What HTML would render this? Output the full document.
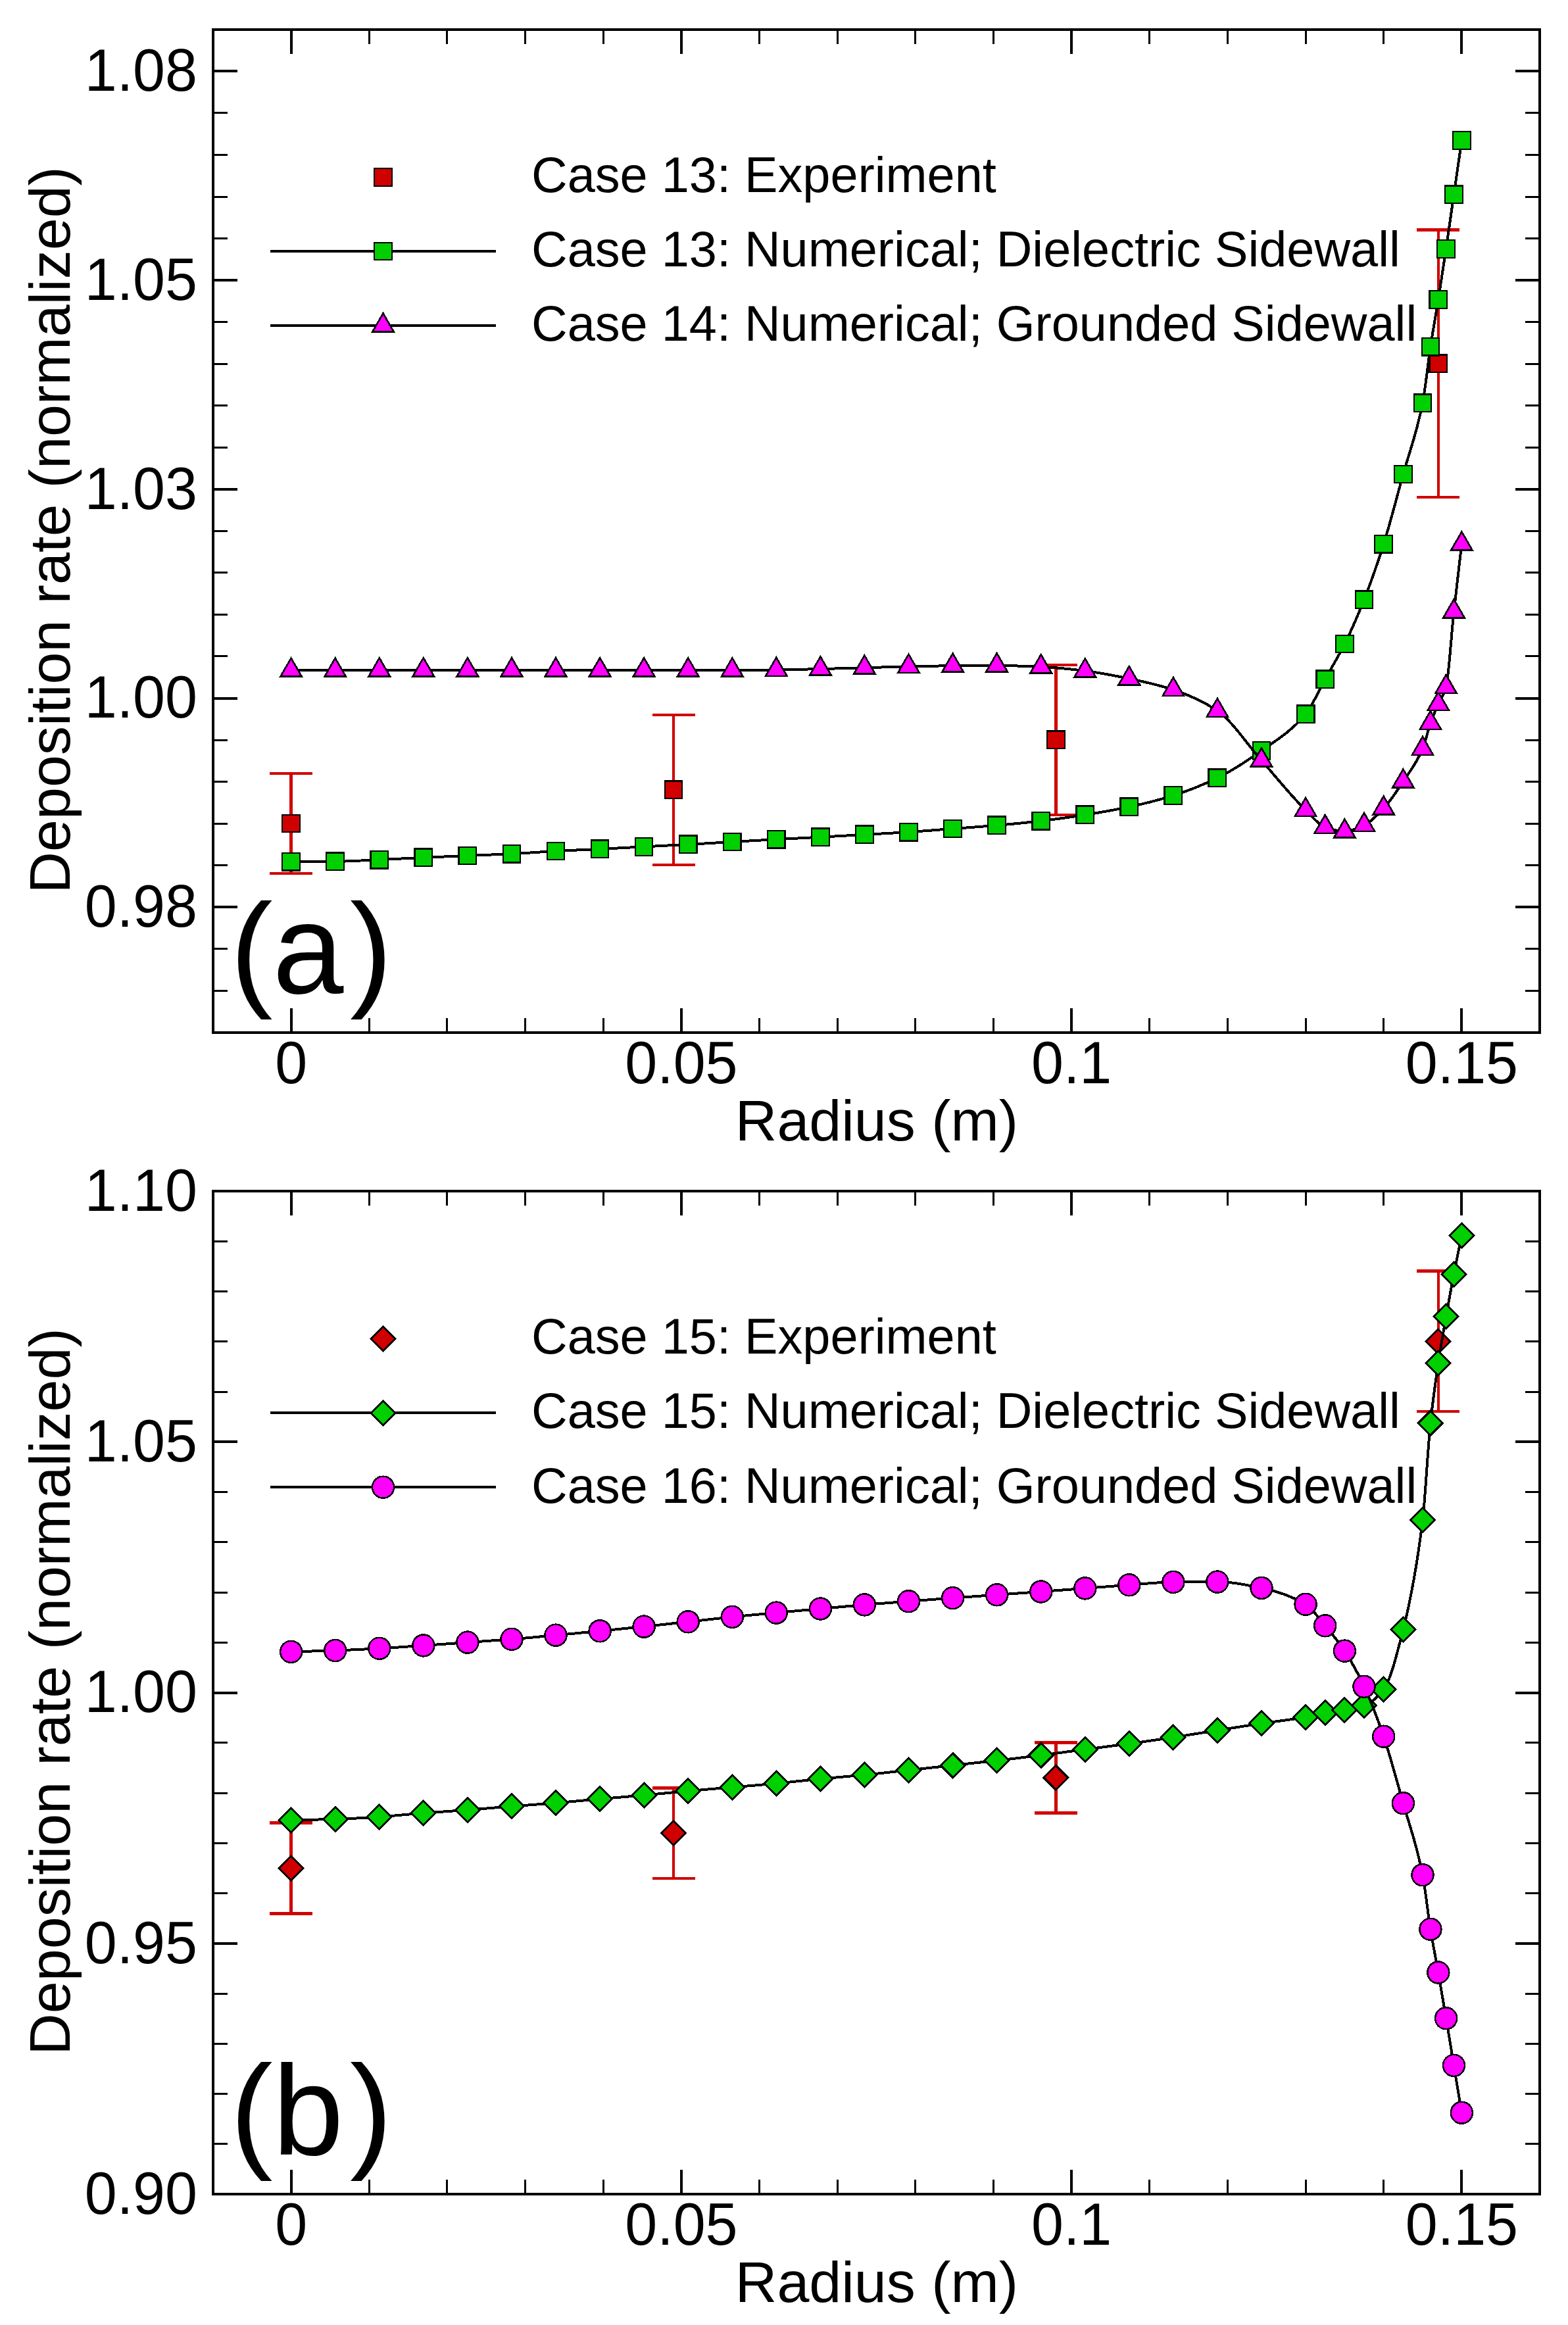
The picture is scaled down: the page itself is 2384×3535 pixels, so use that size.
<!DOCTYPE html>
<html lang="en">
<head>
<meta charset="utf-8">
<title>Deposition rate vs radius</title>
<style>
html,body{margin:0;padding:0;background:#fff;}
body{width:2384px;height:3535px;overflow:hidden;}
svg{display:block;}
text{white-space:pre;}
</style>
</head>
<body>
<svg width="2384" height="3535" viewBox="0 0 2384 3535" font-family='"Liberation Sans", Arial, Helvetica, sans-serif' fill="#000" shape-rendering="crispEdges">
<rect width="2384" height="3535" fill="#fff"/>
<g id="panel-a">
<path d="M442.6 44.8v37M442.6 1569.8v-37M1035.9 44.8v37M1035.9 1569.8v-37M1629.1 44.8v37M1629.1 1569.8v-37M2222.4 44.8v37M2222.4 1569.8v-37M324 1379.2h37M2341 1379.2h-37M324 1061.5h37M2341 1061.5h-37M324 743.8h37M2341 743.8h-37M324 426.1h37M2341 426.1h-37M324 108.3h37M2341 108.3h-37" stroke="#000" stroke-width="4" fill="none"/>
<path d="M561.3 44.8v22M561.3 1569.8v-22M679.9 44.8v22M679.9 1569.8v-22M798.6 44.8v22M798.6 1569.8v-22M917.2 44.8v22M917.2 1569.8v-22M1154.5 44.8v22M1154.5 1569.8v-22M1273.2 44.8v22M1273.2 1569.8v-22M1391.8 44.8v22M1391.8 1569.8v-22M1510.5 44.8v22M1510.5 1569.8v-22M1747.8 44.8v22M1747.8 1569.8v-22M1866.4 44.8v22M1866.4 1569.8v-22M1985.1 44.8v22M1985.1 1569.8v-22M2103.7 44.8v22M2103.7 1569.8v-22M324 1506.3h22M2341 1506.3h-22M324 1442.7h22M2341 1442.7h-22M324 1315.6h22M2341 1315.6h-22M324 1252.1h22M2341 1252.1h-22M324 1188.5h22M2341 1188.5h-22M324 1125h22M2341 1125h-22M324 997.9h22M2341 997.9h-22M324 934.4h22M2341 934.4h-22M324 870.8h22M2341 870.8h-22M324 807.3h22M2341 807.3h-22M324 680.2h22M2341 680.2h-22M324 616.7h22M2341 616.7h-22M324 553.1h22M2341 553.1h-22M324 489.6h22M2341 489.6h-22M324 362.5h22M2341 362.5h-22M324 299h22M2341 299h-22M324 235.4h22M2341 235.4h-22M324 171.9h22M2341 171.9h-22" stroke="#000" stroke-width="3" fill="none"/>
<g font-size="88" text-anchor="end">
<text transform="translate(300 138) scale(1 1.042)">1.08</text>
<text transform="translate(300 455.8) scale(1 1.042)">1.05</text>
<text transform="translate(300 773.5) scale(1 1.042)">1.03</text>
<text transform="translate(300 1091.2) scale(1 1.042)">1.00</text>
<text transform="translate(300 1408.9) scale(1 1.042)">0.98</text>
</g>
<g font-size="88" text-anchor="middle">
<text transform="translate(442.6 1646.6) scale(1 1.042)">0</text>
<text transform="translate(1035.9 1646.6) scale(1 1.042)">0.05</text>
<text transform="translate(1629.1 1646.6) scale(1 1.042)">0.1</text>
<text transform="translate(2222.4 1646.6) scale(1 1.042)">0.15</text>
<text x="1333" y="1733.8">Radius (m)</text>
<text transform="translate(106 805.8) rotate(-90)">Deposition rate (normalized)</text>
</g>
<text x="350" y="1509.8" font-size="194">(a<tspan dx="9.5">)</tspan></text>
<g font-size="75.7">
<text x="808" y="291.8">Case 13: Experiment</text>
<text x="808" y="405.1">Case 13: Numerical; Dielectric Sidewall</text>
<text x="808" y="518.4">Case 14: Numerical; Grounded Sidewall</text>
</g>
<path d="M411 382H754M411 495H754" stroke="#000" stroke-width="4" fill="none"/>
<g stroke="#000" stroke-width="2">
<rect x="569.2" y="256.1" width="26.6" height="26.6" fill="#d00000" stroke-width="2.2"/>
<rect x="569.2" y="368.7" width="26.6" height="26.6" fill="#00d000" stroke-width="2.2"/>
<path d="M582.5 476.3L598.7 504.4L566.3 504.4Z" fill="#ff00ff" stroke-width="2.6"/>
</g>
<g stroke="#d00000" stroke-width="4.5" fill="none">
<path d="M442.6 1175.8V1328.2M410.1 1175.8H475.1M410.1 1328.2H475.1"/>
<path d="M1024 1086.8V1315M991.5 1086.8H1056.5M991.5 1315H1056.5"/>
<path d="M1605.4 1010.8V1238.8M1572.9 1010.8H1637.9M1572.9 1238.8H1637.9"/>
<path d="M2186.8 349.5V756.1M2154.3 349.5H2219.3M2154.3 756.1H2219.3"/>
</g>
<g stroke="#000" stroke-width="2">
<rect x="429.3" y="1238.7" width="26.6" height="26.6" fill="#d00000" stroke-width="2.2"/>
<rect x="1010.7" y="1187.6" width="26.6" height="26.6" fill="#d00000" stroke-width="2.2"/>
<rect x="1592.1" y="1111.5" width="26.6" height="26.6" fill="#d00000" stroke-width="2.2"/>
<rect x="2173.5" y="539.5" width="26.6" height="26.6" fill="#d00000" stroke-width="2.2"/>
</g>
<path d="M442.6 1310.3C465 1310.2 487.4 1310.1 509.7 1309.9C532.1 1309.7 554.4 1308.1 576.8 1307.1C599.1 1306.1 621.5 1304.9 643.8 1303.9C666.2 1302.9 688.5 1301.9 710.9 1301C733.2 1300.1 755.6 1299.3 778 1298.2C800.3 1297.1 822.7 1295.2 845 1294C867.4 1292.8 889.7 1292 912.1 1290.9C934.4 1289.8 956.8 1288.6 979.1 1287.4C1001.5 1286.2 1023.8 1285.1 1046.2 1283.9C1068.6 1282.7 1090.9 1281.3 1113.3 1280C1135.6 1278.7 1158 1277.4 1180.3 1276.2C1202.7 1275 1225 1273.9 1247.4 1272.7C1269.7 1271.5 1292.1 1270.2 1314.4 1268.9C1336.8 1267.6 1359.2 1266.6 1381.5 1265.1C1403.9 1263.6 1426.2 1261.7 1448.6 1260C1470.9 1258.3 1493.3 1256.8 1515.6 1254.9C1538 1253 1560.3 1250.8 1582.7 1248.2C1605 1245.6 1627.4 1242.4 1649.8 1238.9C1672.1 1235.4 1694.5 1231.5 1716.8 1226.8C1739.2 1222.1 1761.5 1216.5 1783.9 1209.5C1806.2 1202.5 1828.6 1193.6 1850.9 1182.8C1873.3 1172 1895.6 1157.2 1918 1141.4C1940.4 1125.6 1962.7 1112.5 1985.1 1085.9C1994.9 1074.1 2004.8 1050.5 2014.7 1032.7C2024.6 1014.9 2034.5 999 2044.4 979.1C2054.3 959.2 2064.2 936.8 2074 911.8C2083.9 886.8 2093.8 858.6 2103.7 827.2C2113.6 795.8 2123.5 756.7 2133.4 721C2143.3 685.3 2153.1 662.9 2163 612.7C2167 592.6 2170.9 553.3 2174.9 527.3C2178.8 501.3 2182.8 480.3 2186.8 455.5C2190.7 430.7 2194.7 405 2198.6 378.4C2202.6 351.8 2206.5 323.3 2210.5 295.8C2214.4 268.3 2218.4 240.9 2222.4 213.5" stroke="#000" stroke-width="4" fill="none"/>
<g stroke="#000" stroke-width="2">
<rect x="429.3" y="1297" width="26.6" height="26.6" fill="#00d000" stroke-width="2.2"/>
<rect x="496.4" y="1296.6" width="26.6" height="26.6" fill="#00d000" stroke-width="2.2"/>
<rect x="563.5" y="1293.8" width="26.6" height="26.6" fill="#00d000" stroke-width="2.2"/>
<rect x="630.5" y="1290.6" width="26.6" height="26.6" fill="#00d000" stroke-width="2.2"/>
<rect x="697.6" y="1287.7" width="26.6" height="26.6" fill="#00d000" stroke-width="2.2"/>
<rect x="764.7" y="1284.9" width="26.6" height="26.6" fill="#00d000" stroke-width="2.2"/>
<rect x="831.7" y="1280.7" width="26.6" height="26.6" fill="#00d000" stroke-width="2.2"/>
<rect x="898.8" y="1277.6" width="26.6" height="26.6" fill="#00d000" stroke-width="2.2"/>
<rect x="965.8" y="1274.1" width="26.6" height="26.6" fill="#00d000" stroke-width="2.2"/>
<rect x="1032.9" y="1270.6" width="26.6" height="26.6" fill="#00d000" stroke-width="2.2"/>
<rect x="1100" y="1266.7" width="26.6" height="26.6" fill="#00d000" stroke-width="2.2"/>
<rect x="1167" y="1262.9" width="26.6" height="26.6" fill="#00d000" stroke-width="2.2"/>
<rect x="1234.1" y="1259.4" width="26.6" height="26.6" fill="#00d000" stroke-width="2.2"/>
<rect x="1301.1" y="1255.6" width="26.6" height="26.6" fill="#00d000" stroke-width="2.2"/>
<rect x="1368.2" y="1251.8" width="26.6" height="26.6" fill="#00d000" stroke-width="2.2"/>
<rect x="1435.3" y="1246.7" width="26.6" height="26.6" fill="#00d000" stroke-width="2.2"/>
<rect x="1502.3" y="1241.6" width="26.6" height="26.6" fill="#00d000" stroke-width="2.2"/>
<rect x="1569.4" y="1234.9" width="26.6" height="26.6" fill="#00d000" stroke-width="2.2"/>
<rect x="1636.5" y="1225.6" width="26.6" height="26.6" fill="#00d000" stroke-width="2.2"/>
<rect x="1703.5" y="1213.5" width="26.6" height="26.6" fill="#00d000" stroke-width="2.2"/>
<rect x="1770.6" y="1196.2" width="26.6" height="26.6" fill="#00d000" stroke-width="2.2"/>
<rect x="1837.6" y="1169.5" width="26.6" height="26.6" fill="#00d000" stroke-width="2.2"/>
<rect x="1904.7" y="1128.1" width="26.6" height="26.6" fill="#00d000" stroke-width="2.2"/>
<rect x="1971.8" y="1072.6" width="26.6" height="26.6" fill="#00d000" stroke-width="2.2"/>
<rect x="2001.4" y="1019.4" width="26.6" height="26.6" fill="#00d000" stroke-width="2.2"/>
<rect x="2031.1" y="965.8" width="26.6" height="26.6" fill="#00d000" stroke-width="2.2"/>
<rect x="2060.7" y="898.5" width="26.6" height="26.6" fill="#00d000" stroke-width="2.2"/>
<rect x="2090.4" y="813.9" width="26.6" height="26.6" fill="#00d000" stroke-width="2.2"/>
<rect x="2120.1" y="707.7" width="26.6" height="26.6" fill="#00d000" stroke-width="2.2"/>
<rect x="2149.7" y="599.4" width="26.6" height="26.6" fill="#00d000" stroke-width="2.2"/>
<rect x="2161.6" y="514" width="26.6" height="26.6" fill="#00d000" stroke-width="2.2"/>
<rect x="2173.5" y="442.2" width="26.6" height="26.6" fill="#00d000" stroke-width="2.2"/>
<rect x="2185.3" y="365.1" width="26.6" height="26.6" fill="#00d000" stroke-width="2.2"/>
<rect x="2197.2" y="282.5" width="26.6" height="26.6" fill="#00d000" stroke-width="2.2"/>
<rect x="2209.1" y="200.2" width="26.6" height="26.6" fill="#00d000" stroke-width="2.2"/>
</g>
<path d="M442.6 1019.3C465 1019.3 487.4 1019.3 509.7 1019.3C532.1 1019.3 554.4 1019 576.8 1019C599.1 1019 621.5 1018.9 643.8 1018.9C666.2 1018.9 688.5 1018.9 710.9 1018.9C733.2 1018.9 755.6 1018.9 778 1018.9C800.3 1018.9 822.7 1018.9 845 1018.9C867.4 1018.9 889.7 1018.9 912.1 1018.9C934.4 1018.9 956.8 1018.9 979.1 1018.9C1001.5 1018.9 1023.8 1019.1 1046.2 1019.1C1068.6 1019.1 1090.9 1019.1 1113.3 1019.1C1135.6 1019.1 1158 1018.7 1180.3 1018.4C1202.7 1018.1 1225 1017.6 1247.4 1017.1C1269.7 1016.6 1292.1 1015.8 1314.4 1015.2C1336.8 1014.6 1359.2 1013.9 1381.5 1013.4C1403.9 1012.9 1426.2 1012.4 1448.6 1012.2C1470.9 1012 1493.3 1011.9 1515.6 1011.9C1538 1011.9 1560.3 1012.9 1582.7 1013.9C1605 1014.9 1627.4 1017.3 1649.8 1020C1672.1 1022.7 1694.5 1027.2 1716.8 1031.8C1739.2 1036.4 1761.5 1041.3 1783.9 1048.7C1806.2 1056.1 1828.6 1065.7 1850.9 1080.7C1873.3 1095.7 1895.6 1131 1918 1156.2C1940.4 1181.4 1962.7 1210 1985.1 1231.7C1994.9 1241.3 2004.8 1254.2 2014.7 1257.7C2024.6 1261.2 2034.5 1264.2 2044.4 1264.2C2054.3 1264.2 2064.2 1259.3 2074 1254.7C2083.9 1250.1 2093.8 1239.7 2103.7 1229.2C2113.6 1218.7 2123.5 1203.2 2133.4 1188.2C2143.3 1173.2 2153.1 1161.7 2163 1138.7C2167 1129.5 2170.9 1110.8 2174.9 1099.7C2178.8 1088.6 2182.8 1079.8 2186.8 1070.7C2190.7 1061.6 2194.7 1058.8 2198.6 1044.7C2202.6 1030.6 2206.5 966 2210.5 929.9C2214.4 893.8 2218.4 861.4 2222.4 827.2" stroke="#000" stroke-width="4" fill="none"/>
<g stroke="#000" stroke-width="2">
<path d="M442.6 1000.6L458.8 1028.7L426.4 1028.7Z" fill="#ff00ff" stroke-width="2.6"/>
<path d="M509.7 1000.6L525.9 1028.7L493.5 1028.7Z" fill="#ff00ff" stroke-width="2.6"/>
<path d="M576.8 1000.3L593 1028.4L560.6 1028.4Z" fill="#ff00ff" stroke-width="2.6"/>
<path d="M643.8 1000.2L660 1028.3L627.6 1028.3Z" fill="#ff00ff" stroke-width="2.6"/>
<path d="M710.9 1000.2L727.1 1028.3L694.7 1028.3Z" fill="#ff00ff" stroke-width="2.6"/>
<path d="M778 1000.2L794.2 1028.3L761.8 1028.3Z" fill="#ff00ff" stroke-width="2.6"/>
<path d="M845 1000.2L861.2 1028.3L828.8 1028.3Z" fill="#ff00ff" stroke-width="2.6"/>
<path d="M912.1 1000.2L928.3 1028.3L895.9 1028.3Z" fill="#ff00ff" stroke-width="2.6"/>
<path d="M979.1 1000.2L995.3 1028.3L962.9 1028.3Z" fill="#ff00ff" stroke-width="2.6"/>
<path d="M1046.2 1000.4L1062.4 1028.5L1030 1028.5Z" fill="#ff00ff" stroke-width="2.6"/>
<path d="M1113.3 1000.4L1129.5 1028.5L1097.1 1028.5Z" fill="#ff00ff" stroke-width="2.6"/>
<path d="M1180.3 999.7L1196.5 1027.8L1164.1 1027.8Z" fill="#ff00ff" stroke-width="2.6"/>
<path d="M1247.4 998.4L1263.6 1026.5L1231.2 1026.5Z" fill="#ff00ff" stroke-width="2.6"/>
<path d="M1314.4 996.5L1330.6 1024.6L1298.2 1024.6Z" fill="#ff00ff" stroke-width="2.6"/>
<path d="M1381.5 994.7L1397.7 1022.8L1365.3 1022.8Z" fill="#ff00ff" stroke-width="2.6"/>
<path d="M1448.6 993.5L1464.8 1021.6L1432.4 1021.6Z" fill="#ff00ff" stroke-width="2.6"/>
<path d="M1515.6 993.2L1531.8 1021.3L1499.4 1021.3Z" fill="#ff00ff" stroke-width="2.6"/>
<path d="M1582.7 995.2L1598.9 1023.3L1566.5 1023.3Z" fill="#ff00ff" stroke-width="2.6"/>
<path d="M1649.8 1001.3L1666 1029.4L1633.6 1029.4Z" fill="#ff00ff" stroke-width="2.6"/>
<path d="M1716.8 1013.1L1733 1041.2L1700.6 1041.2Z" fill="#ff00ff" stroke-width="2.6"/>
<path d="M1783.9 1030L1800.1 1058.1L1767.7 1058.1Z" fill="#ff00ff" stroke-width="2.6"/>
<path d="M1850.9 1062L1867.1 1090.1L1834.7 1090.1Z" fill="#ff00ff" stroke-width="2.6"/>
<path d="M1918 1137.5L1934.2 1165.6L1901.8 1165.6Z" fill="#ff00ff" stroke-width="2.6"/>
<path d="M1985.1 1213L2001.3 1241.1L1968.9 1241.1Z" fill="#ff00ff" stroke-width="2.6"/>
<path d="M2014.7 1239L2030.9 1267.1L1998.5 1267.1Z" fill="#ff00ff" stroke-width="2.6"/>
<path d="M2044.4 1245.5L2060.6 1273.6L2028.2 1273.6Z" fill="#ff00ff" stroke-width="2.6"/>
<path d="M2074 1236L2090.2 1264.1L2057.8 1264.1Z" fill="#ff00ff" stroke-width="2.6"/>
<path d="M2103.7 1210.5L2119.9 1238.6L2087.5 1238.6Z" fill="#ff00ff" stroke-width="2.6"/>
<path d="M2133.4 1169.5L2149.6 1197.6L2117.2 1197.6Z" fill="#ff00ff" stroke-width="2.6"/>
<path d="M2163 1120L2179.2 1148.1L2146.8 1148.1Z" fill="#ff00ff" stroke-width="2.6"/>
<path d="M2174.9 1081L2191.1 1109.1L2158.7 1109.1Z" fill="#ff00ff" stroke-width="2.6"/>
<path d="M2186.8 1052L2203 1080.1L2170.6 1080.1Z" fill="#ff00ff" stroke-width="2.6"/>
<path d="M2198.6 1026L2214.8 1054.1L2182.4 1054.1Z" fill="#ff00ff" stroke-width="2.6"/>
<path d="M2210.5 911.2L2226.7 939.3L2194.3 939.3Z" fill="#ff00ff" stroke-width="2.6"/>
<path d="M2222.4 808.5L2238.6 836.6L2206.2 836.6Z" fill="#ff00ff" stroke-width="2.6"/>
</g>
<rect x="324" y="44.8" width="2017" height="1525" fill="none" stroke="#000" stroke-width="4"/>
</g>
<g id="panel-b">
<path d="M442.6 1811v37M442.6 3336v-37M1035.9 1811v37M1035.9 3336v-37M1629.1 1811v37M1629.1 3336v-37M2222.4 1811v37M2222.4 3336v-37M324 2954.8h37M2341 2954.8h-37M324 2573.5h37M2341 2573.5h-37M324 2192.2h37M2341 2192.2h-37" stroke="#000" stroke-width="4" fill="none"/>
<path d="M561.3 1811v22M561.3 3336v-22M679.9 1811v22M679.9 3336v-22M798.6 1811v22M798.6 3336v-22M917.2 1811v22M917.2 3336v-22M1154.5 1811v22M1154.5 3336v-22M1273.2 1811v22M1273.2 3336v-22M1391.8 1811v22M1391.8 3336v-22M1510.5 1811v22M1510.5 3336v-22M1747.8 1811v22M1747.8 3336v-22M1866.4 1811v22M1866.4 3336v-22M1985.1 1811v22M1985.1 3336v-22M2103.7 1811v22M2103.7 3336v-22M324 3259.8h22M2341 3259.8h-22M324 3183.5h22M2341 3183.5h-22M324 3107.2h22M2341 3107.2h-22M324 3031h22M2341 3031h-22M324 2878.5h22M2341 2878.5h-22M324 2802.3h22M2341 2802.3h-22M324 2726h22M2341 2726h-22M324 2649.8h22M2341 2649.8h-22M324 2497.3h22M2341 2497.3h-22M324 2421h22M2341 2421h-22M324 2344.8h22M2341 2344.8h-22M324 2268.5h22M2341 2268.5h-22M324 2116h22M2341 2116h-22M324 2039.8h22M2341 2039.8h-22M324 1963.5h22M2341 1963.5h-22M324 1887.2h22M2341 1887.2h-22" stroke="#000" stroke-width="3" fill="none"/>
<g font-size="88" text-anchor="end">
<text transform="translate(300 1840.7) scale(1 1.042)">1.10</text>
<text transform="translate(300 2221.9) scale(1 1.042)">1.05</text>
<text transform="translate(300 2603.2) scale(1 1.042)">1.00</text>
<text transform="translate(300 2984.5) scale(1 1.042)">0.95</text>
<text transform="translate(300 3365.7) scale(1 1.042)">0.90</text>
</g>
<g font-size="88" text-anchor="middle">
<text transform="translate(442.6 3412.8) scale(1 1.042)">0</text>
<text transform="translate(1035.9 3412.8) scale(1 1.042)">0.05</text>
<text transform="translate(1629.1 3412.8) scale(1 1.042)">0.1</text>
<text transform="translate(2222.4 3412.8) scale(1 1.042)">0.15</text>
<text x="1333" y="3500">Radius (m)</text>
<text transform="translate(106 2572) rotate(-90)">Deposition rate (normalized)</text>
</g>
<text x="350" y="3276" font-size="194">(b<tspan dx="9.5">)</tspan></text>
<g font-size="75.7">
<text x="808" y="2058">Case 15: Experiment</text>
<text x="808" y="2171.3">Case 15: Numerical; Dielectric Sidewall</text>
<text x="808" y="2284.6">Case 16: Numerical; Grounded Sidewall</text>
</g>
<path d="M411 2148.2H754M411 2261.2H754" stroke="#000" stroke-width="4" fill="none"/>
<g stroke="#000" stroke-width="2">
<path d="M582.5 2017.1L601 2035.6L582.5 2054.1L564 2035.6Z" fill="#d00000" stroke-width="2.9"/>
<path d="M582.5 2129.7L601 2148.2L582.5 2166.7L564 2148.2Z" fill="#00d000" stroke-width="2.9"/>
<circle cx="582.5" cy="2261.2" r="16.5" fill="#ff00ff" stroke-width="2.5"/>
</g>
<g stroke="#d00000" stroke-width="4.5" fill="none">
<path d="M442.6 2771.7V2909.3M410.1 2771.7H475.1M410.1 2909.3H475.1"/>
<path d="M1024 2718.5V2855.9M991.5 2718.5H1056.5M991.5 2855.9H1056.5"/>
<path d="M1605.4 2649.3V2756.5M1572.9 2649.3H1637.9M1572.9 2756.5H1637.9"/>
<path d="M2186.8 1932.7V2146.1M2154.3 1932.7H2219.3M2154.3 2146.1H2219.3"/>
</g>
<g stroke="#000" stroke-width="2">
<path d="M442.6 2822L461.1 2840.5L442.6 2859L424.1 2840.5Z" fill="#d00000" stroke-width="2.9"/>
<path d="M1024 2768.7L1042.5 2787.2L1024 2805.7L1005.5 2787.2Z" fill="#d00000" stroke-width="2.9"/>
<path d="M1605.4 2684.4L1623.9 2702.9L1605.4 2721.4L1586.9 2702.9Z" fill="#d00000" stroke-width="2.9"/>
<path d="M2186.8 2020.9L2205.3 2039.4L2186.8 2057.9L2168.3 2039.4Z" fill="#d00000" stroke-width="2.9"/>
</g>
<path d="M442.6 2767.5C465 2767 487.4 2766.6 509.7 2765.9C532.1 2765.2 554.4 2763.9 576.8 2762.4C599.1 2760.9 621.5 2758.3 643.8 2756.6C666.2 2754.9 688.5 2753.6 710.9 2751.9C733.2 2750.2 755.6 2748.2 778 2746.4C800.3 2744.6 822.7 2743.2 845 2741.3C867.4 2739.4 889.7 2737.2 912.1 2735.2C934.4 2733.2 956.8 2731.5 979.1 2729.5C1001.5 2727.5 1023.8 2725.1 1046.2 2723.1C1068.6 2721.1 1090.9 2719.3 1113.3 2717.4C1135.6 2715.5 1158 2713.7 1180.3 2711.6C1202.7 2709.5 1225 2706.8 1247.4 2704.6C1269.7 2702.4 1292.1 2700.8 1314.4 2698.6C1336.8 2696.4 1359.2 2693.8 1381.5 2691.4C1403.9 2689 1426.2 2686.5 1448.6 2684.1C1470.9 2681.7 1493.3 2679.2 1515.6 2676.7C1538 2674.2 1560.3 2671.6 1582.7 2668.8C1605 2666 1627.4 2662.7 1649.8 2659.8C1672.1 2656.9 1694.5 2654.2 1716.8 2651.2C1739.2 2648.2 1761.5 2644.9 1783.9 2641.5C1806.2 2638.1 1828.6 2634.4 1850.9 2630.9C1873.3 2627.4 1895.6 2623.7 1918 2620.4C1940.4 2617.1 1962.7 2614.8 1985.1 2610.8C1994.9 2609 2004.8 2605.8 2014.7 2604.1C2024.6 2602.4 2034.5 2601.7 2044.4 2600C2054.3 2598.3 2064.2 2596.8 2074 2593.3C2083.9 2589.8 2093.8 2581.6 2103.7 2568.7C2113.6 2555.8 2123.5 2517 2133.4 2477.8C2143.3 2438.6 2153.1 2392 2163 2311.1C2167 2278.7 2170.9 2201.1 2174.9 2163.6C2178.8 2126.1 2182.8 2099.1 2186.8 2072.6C2190.7 2046.1 2194.7 2024.3 2198.6 2001.8C2202.6 1979.3 2206.5 1957.8 2210.5 1937.3C2214.4 1916.8 2218.4 1898.2 2222.4 1878.7" stroke="#000" stroke-width="4" fill="none"/>
<g stroke="#000" stroke-width="2">
<path d="M442.6 2749L461.1 2767.5L442.6 2786L424.1 2767.5Z" fill="#00d000" stroke-width="2.9"/>
<path d="M509.7 2747.4L528.2 2765.9L509.7 2784.4L491.2 2765.9Z" fill="#00d000" stroke-width="2.9"/>
<path d="M576.8 2743.9L595.3 2762.4L576.8 2780.9L558.3 2762.4Z" fill="#00d000" stroke-width="2.9"/>
<path d="M643.8 2738.1L662.3 2756.6L643.8 2775.1L625.3 2756.6Z" fill="#00d000" stroke-width="2.9"/>
<path d="M710.9 2733.4L729.4 2751.9L710.9 2770.4L692.4 2751.9Z" fill="#00d000" stroke-width="2.9"/>
<path d="M778 2727.9L796.5 2746.4L778 2764.9L759.5 2746.4Z" fill="#00d000" stroke-width="2.9"/>
<path d="M845 2722.8L863.5 2741.3L845 2759.8L826.5 2741.3Z" fill="#00d000" stroke-width="2.9"/>
<path d="M912.1 2716.7L930.6 2735.2L912.1 2753.7L893.6 2735.2Z" fill="#00d000" stroke-width="2.9"/>
<path d="M979.1 2711L997.6 2729.5L979.1 2748L960.6 2729.5Z" fill="#00d000" stroke-width="2.9"/>
<path d="M1046.2 2704.6L1064.7 2723.1L1046.2 2741.6L1027.7 2723.1Z" fill="#00d000" stroke-width="2.9"/>
<path d="M1113.3 2698.9L1131.8 2717.4L1113.3 2735.9L1094.8 2717.4Z" fill="#00d000" stroke-width="2.9"/>
<path d="M1180.3 2693.1L1198.8 2711.6L1180.3 2730.1L1161.8 2711.6Z" fill="#00d000" stroke-width="2.9"/>
<path d="M1247.4 2686.1L1265.9 2704.6L1247.4 2723.1L1228.9 2704.6Z" fill="#00d000" stroke-width="2.9"/>
<path d="M1314.4 2680.1L1332.9 2698.6L1314.4 2717.1L1295.9 2698.6Z" fill="#00d000" stroke-width="2.9"/>
<path d="M1381.5 2672.9L1400 2691.4L1381.5 2709.9L1363 2691.4Z" fill="#00d000" stroke-width="2.9"/>
<path d="M1448.6 2665.6L1467.1 2684.1L1448.6 2702.6L1430.1 2684.1Z" fill="#00d000" stroke-width="2.9"/>
<path d="M1515.6 2658.2L1534.1 2676.7L1515.6 2695.2L1497.1 2676.7Z" fill="#00d000" stroke-width="2.9"/>
<path d="M1582.7 2650.3L1601.2 2668.8L1582.7 2687.3L1564.2 2668.8Z" fill="#00d000" stroke-width="2.9"/>
<path d="M1649.8 2641.3L1668.3 2659.8L1649.8 2678.3L1631.3 2659.8Z" fill="#00d000" stroke-width="2.9"/>
<path d="M1716.8 2632.7L1735.3 2651.2L1716.8 2669.7L1698.3 2651.2Z" fill="#00d000" stroke-width="2.9"/>
<path d="M1783.9 2623L1802.4 2641.5L1783.9 2660L1765.4 2641.5Z" fill="#00d000" stroke-width="2.9"/>
<path d="M1850.9 2612.4L1869.4 2630.9L1850.9 2649.4L1832.4 2630.9Z" fill="#00d000" stroke-width="2.9"/>
<path d="M1918 2601.9L1936.5 2620.4L1918 2638.9L1899.5 2620.4Z" fill="#00d000" stroke-width="2.9"/>
<path d="M1985.1 2592.3L2003.6 2610.8L1985.1 2629.3L1966.6 2610.8Z" fill="#00d000" stroke-width="2.9"/>
<path d="M2014.7 2585.6L2033.2 2604.1L2014.7 2622.6L1996.2 2604.1Z" fill="#00d000" stroke-width="2.9"/>
<path d="M2044.4 2581.5L2062.9 2600L2044.4 2618.5L2025.9 2600Z" fill="#00d000" stroke-width="2.9"/>
<path d="M2074 2574.8L2092.5 2593.3L2074 2611.8L2055.5 2593.3Z" fill="#00d000" stroke-width="2.9"/>
<path d="M2103.7 2550.2L2122.2 2568.7L2103.7 2587.2L2085.2 2568.7Z" fill="#00d000" stroke-width="2.9"/>
<path d="M2133.4 2459.3L2151.9 2477.8L2133.4 2496.3L2114.9 2477.8Z" fill="#00d000" stroke-width="2.9"/>
<path d="M2163 2292.6L2181.5 2311.1L2163 2329.6L2144.5 2311.1Z" fill="#00d000" stroke-width="2.9"/>
<path d="M2174.9 2145.1L2193.4 2163.6L2174.9 2182.1L2156.4 2163.6Z" fill="#00d000" stroke-width="2.9"/>
<path d="M2186.8 2054.1L2205.3 2072.6L2186.8 2091.1L2168.3 2072.6Z" fill="#00d000" stroke-width="2.9"/>
<path d="M2198.6 1983.3L2217.1 2001.8L2198.6 2020.3L2180.1 2001.8Z" fill="#00d000" stroke-width="2.9"/>
<path d="M2210.5 1918.8L2229 1937.3L2210.5 1955.8L2192 1937.3Z" fill="#00d000" stroke-width="2.9"/>
<path d="M2222.4 1860.2L2240.9 1878.7L2222.4 1897.2L2203.9 1878.7Z" fill="#00d000" stroke-width="2.9"/>
</g>
<path d="M442.6 2511.4C465 2510.8 487.4 2510.3 509.7 2509.5C532.1 2508.7 554.4 2507.5 576.8 2506.3C599.1 2505.1 621.5 2503.4 643.8 2501.9C666.2 2500.4 688.5 2498.7 710.9 2497.1C733.2 2495.5 755.6 2494.1 778 2492.3C800.3 2490.5 822.7 2488.3 845 2486.2C867.4 2484.1 889.7 2482 912.1 2479.8C934.4 2477.6 956.8 2475.4 979.1 2473.1C1001.5 2470.8 1023.8 2468.2 1046.2 2465.8C1068.6 2463.4 1090.9 2460.7 1113.3 2458.4C1135.6 2456.1 1158 2454.2 1180.3 2452.1C1202.7 2450 1225 2448 1247.4 2446C1269.7 2444 1292.1 2441.8 1314.4 2439.9C1336.8 2438 1359.2 2436.4 1381.5 2434.7C1403.9 2433 1426.2 2431.2 1448.6 2429.6C1470.9 2428 1493.3 2426.4 1515.6 2424.8C1538 2423.2 1560.3 2421.6 1582.7 2420C1605 2418.4 1627.4 2416.6 1649.8 2414.9C1672.1 2413.2 1694.5 2411.4 1716.8 2409.8C1739.2 2408.2 1761.5 2405.6 1783.9 2405.4C1806.2 2405.2 1828.6 2405.1 1850.9 2405.1C1873.3 2405.1 1895.6 2409.9 1918 2414.4C1940.4 2418.9 1962.7 2426.1 1985.1 2439.3C1994.9 2445.2 2004.8 2460.1 2014.7 2471.8C2024.6 2483.5 2034.5 2495.1 2044.4 2510.1C2054.3 2525.1 2064.2 2543.2 2074 2564.3C2083.9 2585.4 2093.8 2611.2 2103.7 2640.2C2113.6 2669.2 2123.5 2706.7 2133.4 2741.7C2143.3 2776.7 2153.1 2800.9 2163 2850.7C2167 2870.6 2170.9 2908.9 2174.9 2933.3C2178.8 2957.7 2182.8 2976.5 2186.8 2999C2190.7 3021.5 2194.7 3045.1 2198.6 3068.7C2202.6 3092.3 2206.5 3116.5 2210.5 3140.4C2214.4 3164.3 2218.4 3188.3 2222.4 3212.2" stroke="#000" stroke-width="4" fill="none"/>
<g stroke="#000" stroke-width="2">
<circle cx="442.6" cy="2511.4" r="16.5" fill="#ff00ff" stroke-width="2.5"/>
<circle cx="509.7" cy="2509.5" r="16.5" fill="#ff00ff" stroke-width="2.5"/>
<circle cx="576.8" cy="2506.3" r="16.5" fill="#ff00ff" stroke-width="2.5"/>
<circle cx="643.8" cy="2501.9" r="16.5" fill="#ff00ff" stroke-width="2.5"/>
<circle cx="710.9" cy="2497.1" r="16.5" fill="#ff00ff" stroke-width="2.5"/>
<circle cx="778" cy="2492.3" r="16.5" fill="#ff00ff" stroke-width="2.5"/>
<circle cx="845" cy="2486.2" r="16.5" fill="#ff00ff" stroke-width="2.5"/>
<circle cx="912.1" cy="2479.8" r="16.5" fill="#ff00ff" stroke-width="2.5"/>
<circle cx="979.1" cy="2473.1" r="16.5" fill="#ff00ff" stroke-width="2.5"/>
<circle cx="1046.2" cy="2465.8" r="16.5" fill="#ff00ff" stroke-width="2.5"/>
<circle cx="1113.3" cy="2458.4" r="16.5" fill="#ff00ff" stroke-width="2.5"/>
<circle cx="1180.3" cy="2452.1" r="16.5" fill="#ff00ff" stroke-width="2.5"/>
<circle cx="1247.4" cy="2446" r="16.5" fill="#ff00ff" stroke-width="2.5"/>
<circle cx="1314.4" cy="2439.9" r="16.5" fill="#ff00ff" stroke-width="2.5"/>
<circle cx="1381.5" cy="2434.7" r="16.5" fill="#ff00ff" stroke-width="2.5"/>
<circle cx="1448.6" cy="2429.6" r="16.5" fill="#ff00ff" stroke-width="2.5"/>
<circle cx="1515.6" cy="2424.8" r="16.5" fill="#ff00ff" stroke-width="2.5"/>
<circle cx="1582.7" cy="2420" r="16.5" fill="#ff00ff" stroke-width="2.5"/>
<circle cx="1649.8" cy="2414.9" r="16.5" fill="#ff00ff" stroke-width="2.5"/>
<circle cx="1716.8" cy="2409.8" r="16.5" fill="#ff00ff" stroke-width="2.5"/>
<circle cx="1783.9" cy="2405.4" r="16.5" fill="#ff00ff" stroke-width="2.5"/>
<circle cx="1850.9" cy="2405.1" r="16.5" fill="#ff00ff" stroke-width="2.5"/>
<circle cx="1918" cy="2414.4" r="16.5" fill="#ff00ff" stroke-width="2.5"/>
<circle cx="1985.1" cy="2439.3" r="16.5" fill="#ff00ff" stroke-width="2.5"/>
<circle cx="2014.7" cy="2471.8" r="16.5" fill="#ff00ff" stroke-width="2.5"/>
<circle cx="2044.4" cy="2510.1" r="16.5" fill="#ff00ff" stroke-width="2.5"/>
<circle cx="2074" cy="2564.3" r="16.5" fill="#ff00ff" stroke-width="2.5"/>
<circle cx="2103.7" cy="2640.2" r="16.5" fill="#ff00ff" stroke-width="2.5"/>
<circle cx="2133.4" cy="2741.7" r="16.5" fill="#ff00ff" stroke-width="2.5"/>
<circle cx="2163" cy="2850.7" r="16.5" fill="#ff00ff" stroke-width="2.5"/>
<circle cx="2174.9" cy="2933.3" r="16.5" fill="#ff00ff" stroke-width="2.5"/>
<circle cx="2186.8" cy="2999" r="16.5" fill="#ff00ff" stroke-width="2.5"/>
<circle cx="2198.6" cy="3068.7" r="16.5" fill="#ff00ff" stroke-width="2.5"/>
<circle cx="2210.5" cy="3140.4" r="16.5" fill="#ff00ff" stroke-width="2.5"/>
<circle cx="2222.4" cy="3212.2" r="16.5" fill="#ff00ff" stroke-width="2.5"/>
</g>
<rect x="324" y="1811" width="2017" height="1525" fill="none" stroke="#000" stroke-width="4"/>
</g>
</svg>
</body>
</html>
